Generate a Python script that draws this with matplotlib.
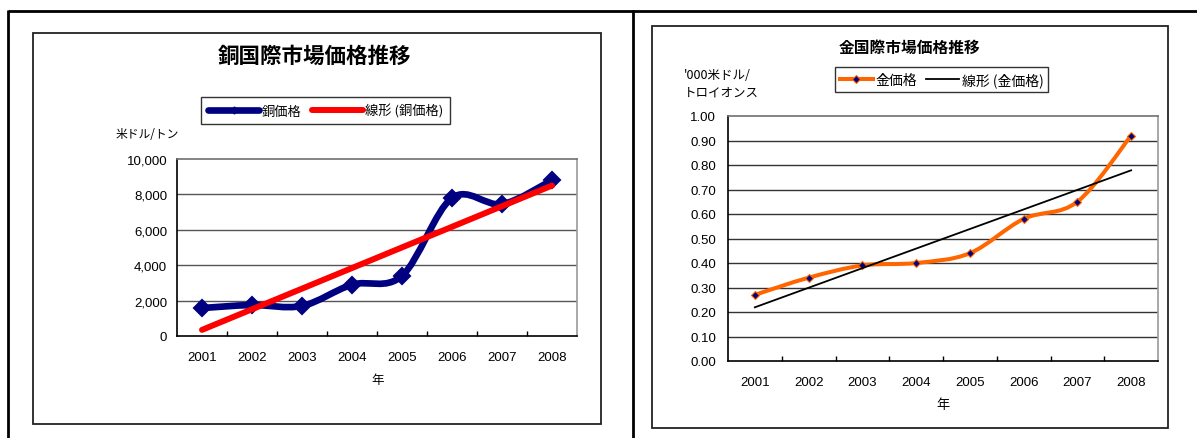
import numpy as np
import matplotlib
matplotlib.use("Agg")
import matplotlib.pyplot as plt
from matplotlib.path import Path
from matplotlib.patches import PathPatch, Rectangle
from matplotlib.lines import Line2D

plt.rcParams['font.family'] = ['Liberation Sans', 'Noto Sans CJK JP', 'DejaVu Sans']
JP = ['Noto Sans CJK JP', 'DejaVu Sans']

# ---------------- data ----------------
years = [2001, 2002, 2003, 2004, 2005, 2006, 2007, 2008]
copper_price = [1580, 1750, 1700, 2900, 3400, 7800, 7450, 8800]      # USD / t
gold_price = [0.27, 0.34, 0.39, 0.40, 0.44, 0.58, 0.65, 0.92]        # '000 USD / troy oz

copper_title = "銅国際市場価格推移"
gold_title = "金国際市場価格推移"
copper_series = "銅価格"
copper_trend = "線形 (銅価格)"
gold_series = "金価格"
gold_trend = "線形 (金価格)"
copper_unit = "米ドル/トン"
gold_unit = "'000米ドル/\nトロイオンス"
x_label = "年"
copper_yticks = [0, 2000, 4000, 6000, 8000, 10000]
gold_yticks = [0.0, 0.1, 0.2, 0.3, 0.4, 0.5, 0.6, 0.7, 0.8, 0.9, 1.0]

W, H = 1197, 439
fig = plt.figure(figsize=(W / 100, H / 100), dpi=100)
fig.patch.set_facecolor('white')


def fx(x):
    return x / W


def fy(y):
    return 1 - y / H


def smooth_path(xs, ys):
    pts = np.column_stack([xs, ys]).astype(float)
    P = np.vstack([pts[0], pts, pts[-1]])
    verts = [pts[0]]
    codes = [Path.MOVETO]
    for i in range(len(pts) - 1):
        p0, p1, p2, p3 = P[i], P[i + 1], P[i + 2], P[i + 3]
        c1 = p1 + (p2 - p0) / 6.0
        c2 = p2 - (p3 - p1) / 6.0
        verts += [c1, c2, p2]
        codes += [Path.CURVE4] * 3
    return Path(verts, codes)


# ---------------- frames ----------------
def fline(xs, ys, lw=1.5, color='black'):
    fig.add_artist(Line2D([fx(v) for v in xs], [fy(v) for v in ys],
                          lw=lw, color=color, transform=fig.transFigure,
                          solid_capstyle='butt'))


fline([8, 1197], [12, 12], lw=2.0)
fline([8, 8], [11, 439], lw=2.0)
fline([633, 633], [11, 439], lw=2.0)

for (x0, y0, x1, y1) in [(33, 34, 601, 425), (652, 27, 1168, 429)]:
    fig.add_artist(Rectangle((fx(x0), fy(y1)), fx(x1) - fx(x0), fy(y0) - fy(y1),
                             transform=fig.transFigure, fill=False,
                             edgecolor='#222222', lw=1.3))


def style_axes(ax, yticks, fmt, ypad, xpad, grid_color):
    n = len(years)
    xs = np.arange(1, n + 1)
    ax.set_xlim(0.5, n + 0.5)
    ax.set_ylim(yticks[0], yticks[-1])
    ax.set_yticks(yticks)
    ax.set_yticklabels([fmt(v) for v in yticks])
    ax.set_xticks(xs)
    ax.set_xticklabels([str(y) for y in years])
    ax.set_xticks(np.arange(1.5, n, 1.0), minor=True)
    ax.tick_params(axis='x', which='major', length=0, pad=xpad, labelsize=9.5)
    ax.tick_params(axis='x', which='minor', direction='in', length=3.5, width=1.0)
    ax.tick_params(axis='y', which='both', length=0, pad=ypad, labelsize=9.5)
    for yv in yticks[1:-1]:
        ax.axhline(yv, color=grid_color, lw=1.0, zorder=1)
    ax.spines['left'].set_color('black')
    ax.spines['bottom'].set_color('black')
    ax.spines['left'].set_linewidth(1.2)
    ax.spines['bottom'].set_linewidth(1.2)
    ax.spines['top'].set_color('#707070')
    ax.spines['right'].set_color('#9a9a9a')
    ax.spines['top'].set_linewidth(1.2)
    ax.spines['right'].set_linewidth(1.2)
    return xs


# ---------------- copper chart ----------------
axL = fig.add_axes([fx(177), fy(337), 400 / W, 177 / H])
xsL = style_axes(axL, copper_yticks, lambda v: f"{v:,.0f}", 7, 11, '#555555')
cu_color = '#000080'
axL.add_patch(PathPatch(smooth_path(xsL, copper_price), fill=False,
                        edgecolor=cu_color, lw=4.8, capstyle='round',
                        joinstyle='round', zorder=3))
axL.plot(xsL, copper_price, ls='none', marker='D', ms=8.5, color=cu_color,
         mec=cu_color, mew=1.5, zorder=4)
kL = np.polyfit(xsL, copper_price, 1)
axL.plot(xsL, np.polyval(kL, xsL), color='#FF0000', lw=4.3,
         solid_capstyle='round', zorder=5)

fig.text(fx(315), fy(56), copper_title, family=JP, fontsize=15.5,
         fontweight='bold', ha='center', va='center')
fig.text(fx(116), fy(135), copper_unit, family=JP, fontsize=8.5,
         ha='left', va='center')
fig.text(fx(378), fy(381), x_label, family=JP, fontsize=9,
         ha='center', va='center')

hL = [Line2D([], [], color=cu_color, lw=4.8, marker='D', ms=3.5,
             solid_capstyle='round'),
      Line2D([], [], color='#FF0000', lw=4.3, solid_capstyle='round')]
legL = axL.legend(hL, [copper_series, copper_trend], loc='center',
                  bbox_to_anchor=(fx(325.5), fy(111.5)),
                  bbox_transform=fig.transFigure, ncol=2, frameon=True,
                  fancybox=False, edgecolor='black', handlelength=3.9,
                  handletextpad=0.15, columnspacing=0.8, borderpad=0.5,
                  prop={'family': JP, 'size': 9.5})
legL.get_frame().set_linewidth(1.0)

# ---------------- gold chart ----------------
axR = fig.add_axes([fx(728), fy(362), 430 / W, 245 / H])
xsR = style_axes(axR, gold_yticks, lambda v: f"{v:.2f}", 8.5, 11, '#333333')
au_color = '#FF6600'
axR.add_patch(PathPatch(smooth_path(xsR, gold_price), fill=False,
                        edgecolor=au_color, lw=2.9, capstyle='round',
                        joinstyle='round', zorder=3))
axR.plot(xsR, gold_price, ls='none', marker='D', ms=3.6, color='#000080',
         mec=au_color, mew=0.8, zorder=4)
kR = np.polyfit(xsR, gold_price, 1)
axR.plot(xsR, np.polyval(kR, xsR), color='black', lw=1.3, zorder=5)

fig.text(fx(909.5), fy(48), gold_title, family=JP, fontsize=11.3,
         fontweight='bold', ha='center', va='center')
fig.text(fx(684), fy(84), gold_unit, family=JP, fontsize=9,
         ha='left', va='center', linespacing=1.45)
fig.text(fx(943), fy(406), x_label, family=JP, fontsize=9.5,
         ha='center', va='center')

hR = [Line2D([], [], color=au_color, lw=2.9, marker='D', ms=3.6,
             mfc='#000080', mec=au_color, mew=0.8),
      Line2D([], [], color='black', lw=1.3)]
legR = axR.legend(hR, [gold_series, gold_trend], loc='center',
                  bbox_to_anchor=(fx(941.5), fy(80.5)),
                  bbox_transform=fig.transFigure, ncol=2, frameon=True,
                  fancybox=False, edgecolor='black', handlelength=2.4,
                  handletextpad=0.2, columnspacing=0.6, borderpad=0.35,
                  prop={'family': JP, 'size': 10})
legR.get_frame().set_linewidth(1.0)

fig.savefig("out.png", dpi=100, facecolor='white')
